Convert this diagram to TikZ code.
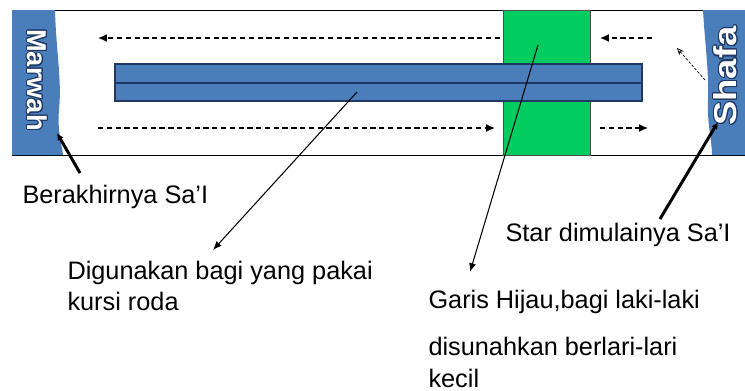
\documentclass[tikz,border=0pt]{standalone}
\usepackage{xcolor}
\usepackage{fontspec}
\setmainfont{Liberation Sans}
\usepackage{contour}
\usetikzlibrary{arrows.meta, positioning, shapes}
\definecolor{sablue}{RGB}{74,126,187}
\definecolor{saline}{RGB}{31,56,100}
\definecolor{sagreen}{RGB}{0,204,96}
\contourlength{0.6pt}

\begin{document}
\begin{tikzpicture}[x=0.02cm, y=-0.02cm, semithick,
          lane/.style={dash pattern=on 3pt off 2pt, line width=0.8pt, -{Latex[length=5pt,width=4.5pt]}},
          pointer/.style={line width=1.7pt, -{Latex[length=4pt,width=4pt]}},
          thinpointer/.style={line width=0.6pt, -{Latex[length=5pt,width=4pt]}},
          saylabel/.style={inner sep=0pt, anchor=west, align=left, font=\fontsize{14.4}{18}\selectfont},
          hilltext/.style={inner sep=0pt, text=white, font=\fontsize{15.5}{15.5}\selectfont\bfseries},
          bar/.style={fill=sablue, draw=saline, line width=0.8pt}]
        \useasboundingbox (0,0) rectangle (745,390);
        \draw[thin] (745,10) -- (12,10) -- (12,155) -- (745,155);
        \node[fill=sagreen, draw=black!70, thin, inner sep=0pt, minimum width=1.74cm, minimum height=2.9cm] (green) at (546.5,82.5) {};
        \node[bar, inner sep=0pt, minimum width=10.54cm, minimum height=0.38cm] (bartop) at (378.5,73.5) {};
        \node[bar, inner sep=0pt, minimum width=10.54cm, minimum height=0.36cm] (barbottom) at (378.5,92) {};
        \fill[sablue] (12,10) -- (55,10) .. controls (56,50) and (62,80) .. (59,110) .. controls (57,130) and (62,145) .. (63,155) -- (12,155) -- cycle;
        \fill[sablue] (745,10) -- (703,10) .. controls (705,45) and (709,70) .. (708,100) .. controls (707,125) and (712,140) .. (712,155) -- (745,155) -- cycle;
        \node[hilltext, rotate=-90] (marwah) at (37,80) {\contour{saline}{Marwah}};
        \node[hilltext, rotate=90, font=\fontsize{18}{18}\selectfont\bfseries] (shafa) at (726,76) {\scalebox{1.15}[1]{\contour{saline}{Shafa}}};

        \coordinate (topstart) at (500,38);
        \coordinate (topend) at (98,38);
        \coordinate (toprightstart) at (652,38);
        \coordinate (toprightend) at (600,38);
        \coordinate (lowstart) at (98,128);
        \coordinate (lowend) at (495,128);
        \coordinate (lowrightstart) at (600,128);
        \coordinate (lowrightend) at (648,128);
        \path[lane]
        (topstart) edge (topend)
        (toprightstart) edge (toprightend)
        (lowstart) edge (lowend)
        (lowrightstart) edge (lowrightend);
        \coordinate (turnstart) at (705,80);
        \coordinate (turnend) at (677,48);
        \draw[dash pattern=on 1.5pt off 1pt, line width=0.4pt, -{Stealth[length=4pt,width=3.5pt,open]}] (turnstart) -- (turnend);

        \node[saylabel] (akhir) at (22,197) {Berakhirnya Sa’I};
        \node[saylabel] (mulai) at (505,235) {Star dimulainya Sa’I};
        \node[saylabel] (kursi) at (67,286) {Digunakan bagi yang pakai\\kursi roda};
        \node[saylabel] (hijau) at (428,339) {Garis Hijau,bagi laki-laki\\[8.5pt]disunahkan berlari-lari\\kecil};

        \coordinate (marwahfoot) at (80,173);
        \coordinate (marwahtip) at (57,133);
        \coordinate (shafafoot) at (660,219);
        \coordinate (shafatip) at (718,122);
        \coordinate (barspot) at (357,92);
        \coordinate (kursitip) at (213,250);
        \coordinate (greenspot) at (538,45);
        \coordinate (hijautip) at (470,272);
        \path (marwahfoot) edge[pointer] (marwahtip)
        (shafafoot) edge[pointer] (shafatip)
        (barspot) edge[thinpointer] (kursitip)
        (greenspot) edge[thinpointer] (hijautip);
      \end{tikzpicture}
\end{document}
